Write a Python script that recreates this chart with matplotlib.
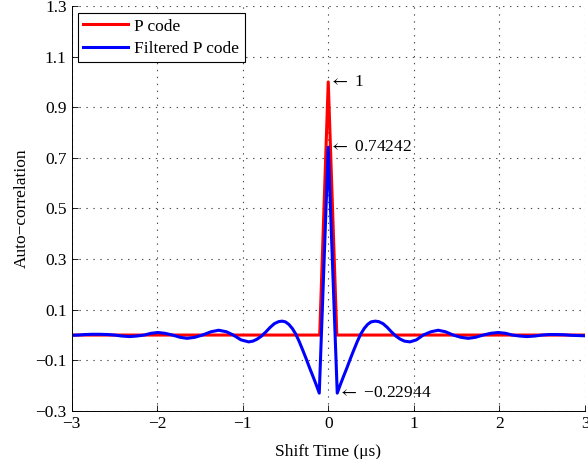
import matplotlib
matplotlib.use("Agg")
import matplotlib.pyplot as plt
import numpy as np

plt.rcParams['font.family'] = ['Liberation Serif', 'DejaVu Serif']
plt.rcParams['font.size'] = 12.5
plt.rcParams['mathtext.fontset'] = 'stix'
plt.rcParams['lines.scale_dashes'] = False

# P code autocorrelation (triangle)
p_t = [-3.0, -0.1, 0.0, 0.1, 3.0]
p_r = [0.0, 0.0, 1.0, 0.0, 0.0]

# filtered P code autocorrelation
f_t = [-3.00, -2.92, -2.84, -2.76, -2.67, -2.58, -2.50, -2.41, -2.32, -2.24,
       -2.15, -2.07, -1.99, -1.91, -1.82, -1.73, -1.65, -1.56, -1.47, -1.37,
       -1.28, -1.19, -1.11, -1.02, -0.93, -0.88, -0.83, -0.78, -0.73, -0.68,
       -0.63, -0.58, -0.54, -0.50, -0.46, -0.42, -0.38, -0.34, -0.30, -0.26,
       -0.22, -0.18, -0.14, -0.105, 0.0,
       0.105, 0.14, 0.18, 0.22, 0.26, 0.30, 0.34, 0.38, 0.42, 0.46,
       0.50, 0.55, 0.59, 0.64, 0.69, 0.74, 0.79, 0.84, 0.89, 0.955,
       1.03, 1.11, 1.20, 1.285, 1.37, 1.46, 1.55, 1.636, 1.72, 1.81,
       1.90, 1.986, 2.07, 2.15, 2.24, 2.32, 2.41, 2.50, 2.58, 2.67,
       2.76, 2.84, 2.92, 3.00]
f_r = [-0.001, 0.000, 0.002, 0.003, 0.003, 0.002, 0.000, -0.004, -0.006, -0.004,
       0.000, 0.007, 0.010, 0.007, 0.000, -0.009, -0.013, -0.009, 0.000, 0.013,
       0.019, 0.013, 0.000, -0.019, -0.027, -0.024, -0.016, -0.004, 0.012, 0.030,
       0.045, 0.053, 0.055, 0.052, 0.042, 0.026, 0.004, -0.025, -0.058, -0.092,
       -0.128, -0.162, -0.197, -0.22944, 0.74242,
       -0.22944, -0.197, -0.162, -0.128, -0.092, -0.058, -0.025, 0.004, 0.026, 0.042,
       0.052, 0.055, 0.053, 0.045, 0.030, 0.012, -0.004, -0.016, -0.024, -0.027,
       -0.019, 0.000, 0.013, 0.019, 0.013, 0.000, -0.009, -0.013, -0.009, 0.000,
       0.007, 0.010, 0.007, 0.000, -0.004, -0.006, -0.004, 0.000, 0.002, 0.002,
       0.001, -0.001, -0.002, -0.003]

xticks = [-3, -2, -1, 0, 1, 2, 3]
yticks = [-0.3, -0.1, 0.1, 0.3, 0.5, 0.7, 0.9, 1.1, 1.3]

fig = plt.figure(figsize=(5.88, 4.59), dpi=100)
ax = fig.add_axes([0.1216, 0.1046, 0.8733, 0.8824])

ax.plot(p_t, p_r, color=(1, 0, 0), lw=2.2, label='P code')
ax.plot(f_t, f_r, color=(0, 0, 1), lw=2.2, label='Filtered P code')

ax.set_xlim(-3, 3)
ax.set_ylim(-0.3, 1.3)
ax.set_xticks(xticks)
ax.set_xticklabels([('\u2212%d' % -v) if v < 0 else '%d' % v for v in xticks])
ax.set_yticks(yticks)
ax.set_yticklabels([('\u2212%g' % -v) if v < 0 else '%g' % v for v in yticks])
ax.tick_params(direction='in', length=4, width=0.6, pad=3.5)
ax.grid(True, color='0.3', lw=0.8, ls=(0, (1, 4)))

for s in ['top', 'right']:
    ax.spines[s].set_visible(False)
for s in ['left', 'bottom']:
    ax.spines[s].set_linewidth(0.7)

ax.set_xlabel('Shift Time (\u03bcs)', labelpad=9)
ax.set_ylabel('Auto\u2212correlation', labelpad=4)

ax.text(0.01, 1.0, r'$\leftarrow$ 1', ha='left', va='center')
ax.text(0.01, 0.74242, r'$\leftarrow$ 0.74242', ha='left', va='center')
ax.text(0.11, -0.22944, '$\\leftarrow$ \u22120.22944', ha='left', va='center')

leg = ax.legend(loc='upper left', bbox_to_anchor=(0.012, 0.983), fancybox=False,
                framealpha=1, edgecolor='black', handlelength=2.6,
                handletextpad=0.35, borderpad=0.32, labelspacing=0.35,
                borderaxespad=0)
leg.get_frame().set_linewidth(0.8)

fig.savefig('out.png', dpi=100)
